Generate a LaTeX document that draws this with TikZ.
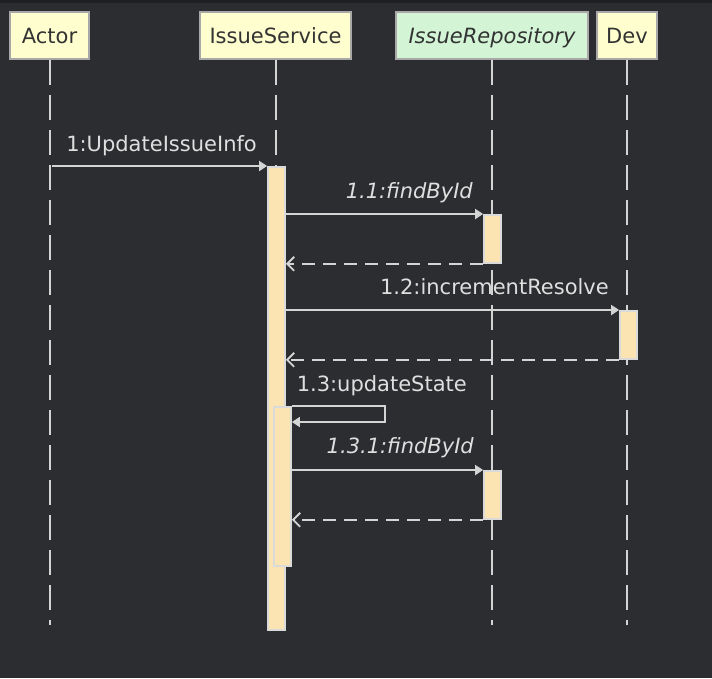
\documentclass[tikz,border=0pt]{standalone}
\usepackage{fontspec}
\setmainfont{DejaVu Sans}
\usetikzlibrary{arrows.meta}
\definecolor{bg}{HTML}{2B2D30}
\definecolor{topbar}{HTML}{1E1F22}
\definecolor{headyel}{HTML}{FEFECE}
\definecolor{headgrn}{HTML}{D3F5D6}
\definecolor{headline}{HTML}{A8A8A8}
\definecolor{headtxt}{HTML}{333333}
\definecolor{wire}{HTML}{D4D4D4}
\definecolor{lbltxt}{HTML}{DFDFDF}
\definecolor{actfill}{HTML}{FCE3B2}
\definecolor{actline}{HTML}{DADADA}
\tikzset{
  head/.style={draw=headline, line width=2pt, fill=headyel, text=headtxt,
    minimum height=47pt, text height=15pt, text depth=0pt, inner sep=0pt},
  life/.style={draw=wire, line width=2pt, dash pattern=on 25pt off 10pt},
  act/.style={draw=actline, line width=1.8pt, fill=actfill, minimum width=17pt,
    inner sep=0pt, anchor=north},
  msg/.style={draw=wire, line width=1.8pt, -{Triangle[length=8pt,width=10pt]}},
  ret/.style={draw=wire, line width=1.8pt, dash pattern=on 13pt off 8pt,
    -{Straight Barb[length=7pt,width=14pt]}},
  lbl/.style={text=lbltxt, inner sep=0pt, anchor=base east}
}
\begin{document}
\begin{tikzpicture}[x=1pt, y=-1pt, font=\fontsize{21}{25}\selectfont]
\useasboundingbox (0,0) rectangle (712,678);
\fill[bg] (0,0) rectangle (712,678);
\fill[topbar] (0,0) rectangle (712,2.5);
% participants
\node[head, minimum width=79pt] (actor) at (49.5,35.5) {Actor};
\node[head, minimum width=151pt] (svc) at (275.5,35.5) {IssueService};
\node[head, fill=headgrn, minimum width=192pt] (repo) at (492,35.5) {\itshape IssueRepository};
\node[head, minimum width=60pt] (dev) at (627,35.5) {Dev};
\coordinate (bottom) at (0,625);
\foreach \p in {actor,svc,repo,dev}
  \draw[life] (\p.south) -- (\p.south |- bottom);
% activations
\node[act, minimum height=463pt] (main) at (276.5,166) {};
\node[act, minimum height=48pt] (r1) at (492.5,214) {};
\node[act, minimum height=48pt] (d1) at (628.5,310) {};
\node[act, minimum height=159pt] (nest) at (282.5,406) {};
\node[act, minimum height=48pt] (r2) at (492.5,470) {};
% messages
\draw[msg] (actor.south |- main.north) ++(2,0) -- (main.north west);
\node[lbl] (l1) at (257,151) {1:UpdateIssueInfo};
\draw[msg] (main.east |- r1.north) -- (r1.north west);
\node[lbl] (l11) at (473,198) {\itshape 1.1:findById};
\draw[ret] (r1.south west) -- (main.east |- r1.south);
\draw[msg] (main.east |- d1.north) -- (d1.north west);
\node[lbl] (l12) at (609,294) {1.2:incrementResolve};
\draw[ret] (d1.south west) -- (main.east |- d1.south);
\coordinate (turn) at (385,422);
\draw[msg] (nest.north east) -| (turn) -- (nest.east |- turn);
\node[lbl] (l13) at (467,391) {1.3:updateState};
\draw[msg] (nest.east |- r2.north) -- (r2.north west);
\node[lbl] (l131) at (474,453) {\itshape 1.3.1:findById};
\draw[ret] (r2.south west) -- (nest.east |- r2.south);
\end{tikzpicture}
\end{document}
